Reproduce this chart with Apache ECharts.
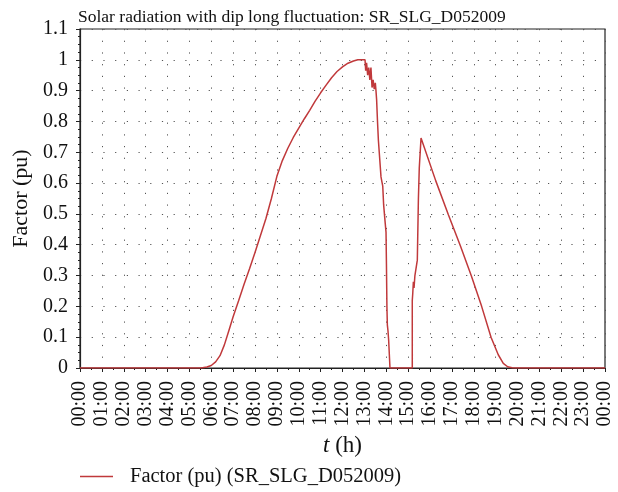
<!DOCTYPE html>
<html>
<head>
<meta charset="utf-8">
<script src="https://cdn.jsdelivr.net/npm/echarts@6/dist/echarts.min.js"></script>
<style>
  html, body { margin: 0; padding: 0; background: #fff; }
  #chart { width: 618px; height: 492px; }
</style>
</head>
<body>
<div id="chart"></div>
<script>
// time of day (h) and factor (pu)
var hours = [0, 5.5, 5.6, 5.8, 6.0, 6.2, 6.4, 6.6, 6.8, 7.0, 7.25, 7.5, 7.75, 8.0, 8.25, 8.5,
  8.75, 9.0, 9.25, 9.5, 9.75, 10.0, 10.25, 10.5, 10.75, 11.0, 11.25, 11.5, 11.75, 12.0,
  12.25, 12.5, 12.7, 13.03, 13.06, 13.1, 13.15, 13.2, 13.25, 13.3, 13.35,
  13.4, 13.45, 13.5, 13.53, 13.56, 13.6, 13.64, 13.7, 13.76, 13.8, 13.84, 13.88, 13.94,
  13.99, 14.01, 14.03, 14.05, 14.08, 14.11, 14.15, 14.17, 15.19, 15.19, 15.21, 15.24,
  15.27, 15.31, 15.42, 15.47, 15.51, 15.59, 16.26, 16.84, 17.4, 17.9, 18.36, 18.79,
  19.12, 19.35, 19.55, 19.75, 19.9, 24];
var factor = [0, 0, 0.001, 0.003, 0.008, 0.02, 0.04, 0.075, 0.12, 0.166, 0.218, 0.272, 0.322, 0.375, 0.43, 0.485,
  0.55, 0.622, 0.673, 0.713, 0.748, 0.778, 0.808, 0.836, 0.866, 0.893, 0.918, 0.942, 0.962, 0.977,
  0.989, 0.996, 1.0, 1.0, 0.965, 0.99, 0.95, 0.975, 0.935, 0.975, 0.91,
  0.935, 0.905, 0.925, 0.9, 0.87, 0.8, 0.74, 0.68, 0.62, 0.605, 0.59, 0.53, 0.48,
  0.44, 0.33, 0.2, 0.14, 0.12, 0.09, 0.03, 0, 0, 0.22, 0.24, 0.28,
  0.26, 0.3, 0.35, 0.55, 0.65, 0.746, 0.608, 0.497, 0.394, 0.297, 0.2, 0.1,
  0.043, 0.015, 0.004, 0.001, 0, 0];
var yTicks = [0, 1.1, 0.1];
var xTicks = [0, 24, 1];

var seriesData = [];
for (var i = 0; i < hours.length; i++) {
  seriesData.push([hours[i], factor[i]]);
}

var font = 'Liberation Serif';
var myChart = echarts.init(document.getElementById('chart'));
var option = {
  animation: false,
  backgroundColor: '#fff',
  title: {
    text: 'Solar radiation with dip long fluctuation: SR_SLG_D052009',
    left: 73,
    top: 3,
    textStyle: { fontFamily: font, fontSize: 17.5, fontWeight: 'normal', color: '#111' }
  },
  legend: {
    left: 80,
    top: 466,
    padding: 0,
    icon: 'rect',
    itemWidth: 33,
    itemHeight: 1.5,
    textStyle: { fontFamily: font, fontSize: 20.5, color: '#111', padding: [0, 0, 0, 12] },
    data: ['Factor (pu) (SR_SLG_D052009)']
  },
  grid: {
    left: 80, right: 13, top: 29, bottom: 124,
    show: true, borderColor: '#222', borderWidth: 1.2
  },
  xAxis: {
    type: 'value',
    min: xTicks[0], max: xTicks[1], interval: xTicks[2],
    name: '{i|t} (h)',
    nameLocation: 'middle',
    nameGap: 64,
    nameTextStyle: {
      fontFamily: font, fontSize: 23, color: '#111',
      rich: { i: { fontFamily: font, fontStyle: 'italic', fontSize: 23, color: '#111' } }
    },
    axisLine: { show: true, lineStyle: { color: '#222', width: 1.2 } },
    axisTick: { show: true, length: 4, lineStyle: { color: '#222' } },
    minorTick: { show: true, splitNumber: 2, length: 2, lineStyle: { color: '#222' } },
    axisLabel: {
      rotate: 90, margin: 13,
      fontFamily: font, fontSize: 20, color: '#111',
      formatter: function (v) {
        var h = v % 24;
        return (h < 10 ? '0' : '') + h + ':00';
      }
    },
    splitLine: { show: true, lineStyle: { color: '#555', width: 1, type: [1.2, 10.5] } }
  },
  yAxis: {
    type: 'value',
    min: yTicks[0], max: yTicks[1], interval: yTicks[2],
    name: 'Factor (pu)',
    nameLocation: 'middle',
    nameGap: 41,
    nameTextStyle: { fontFamily: font, fontSize: 22, color: '#111' },
    axisLine: { show: true, lineStyle: { color: '#222', width: 1.2 } },
    axisTick: { show: true, length: 4, lineStyle: { color: '#222' } },
    minorTick: { show: true, splitNumber: 4, length: 2, lineStyle: { color: '#222' } },
    axisLabel: {
      margin: 12, fontFamily: font, fontSize: 20, color: '#111',
      formatter: function (v) { return String(Math.round(v * 10) / 10); }
    },
    splitLine: { show: true, lineStyle: { color: '#555', width: 1, type: [1.2, 10.5] } }
  },
  series: [
    {
      name: 'Factor (pu) (SR_SLG_D052009)',
      type: 'line',
      symbol: 'none',
      lineStyle: { color: '#c0393b', width: 1.5 },
      itemStyle: { color: '#c0393b' },
      data: seriesData
    }
  ]
};
myChart.setOption(option);
</script>
</body>
</html>
